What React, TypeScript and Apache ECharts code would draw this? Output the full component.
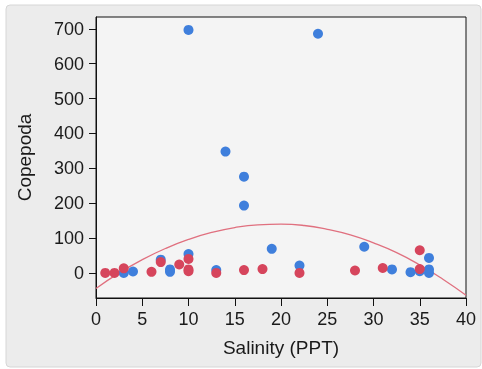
import React, { useEffect, useRef } from "react";
import * as echarts from "echarts";

const xTicks = [0, 5, 10, 15, 20, 25, 30, 35, 40];
const yTicks = [0, 100, 200, 300, 400, 500, 600, 700];

// Blue group: [salinity, copepoda]
const blueSalinity = [10, 24, 14, 16, 16, 19, 29, 10, 7, 22, 36, 8, 8, 13, 3, 4, 32, 34, 35, 36, 36];
const blueCopepoda = [697, 686, 348, 276, 193, 69, 75, 54, 38, 21, 43, 10, 3, 8, 0, 4, 10, 2, 5, 10, 0];

// Red group
const redSalinity = [1, 2, 3, 6, 7, 9, 10, 10, 10, 13, 16, 18, 22, 28, 31, 35, 35];
const redCopepoda = [0, 0, 13, 3, 31, 24, 40, 10, 5, 0, 8, 11, 0, 7, 14, 65, 11];

// Fitted quadratic curve
const fitSalinity = [0, 2.5, 5, 7.5, 10, 12.5, 15, 17.5, 20, 22.5, 25, 27.5, 30, 32.5, 35, 37.5, 40];
const fitCopepoda = [-45, 0, 38, 70, 96, 116, 130, 138, 140, 136, 125, 109, 86, 58, 23, -18, -64];

const font = "'Liberation Sans', Arial, Helvetica, sans-serif";

export default function App() {
  const ref = useRef<HTMLDivElement>(null);
  useEffect(() => {
    if (!ref.current) return;
    const chart = echarts.init(ref.current, null, { renderer: "svg" });
    const blue = blueSalinity.map((x, i) => [x, blueCopepoda[i]]);
    const red = redSalinity.map((x, i) => [x, redCopepoda[i]]);
    const fit = fitSalinity.map((x, i) => [x, fitCopepoda[i]]);
    chart.setOption({
      animation: false,
      backgroundColor: "transparent",
      graphic: [
        {
          type: "rect",
          z: -10,
          silent: true,
          shape: { x: 6, y: 5, width: 475, height: 362, r: 4 },
          style: { fill: "#ececec", stroke: "#d6d6d6", lineWidth: 1 },
        },
      ],
      grid: {
        left: 96,
        right: 16,
        top: 17,
        bottom: 71,
        show: true,
        backgroundColor: "#f4f4f4",
        borderColor: "#111",
        borderWidth: 1,
        z: 0,
      },
      xAxis: {
        type: "value",
        min: 0,
        max: 40,
        interval: 5,
        name: "Salinity (PPT)",
        nameLocation: "middle",
        nameGap: 40,
        nameTextStyle: { fontFamily: font, fontSize: 19, color: "#1a1a1a" },
        axisLine: { show: true, onZero: false, lineStyle: { color: "#111", width: 1 } },
        axisTick: { show: true, length: 8, lineStyle: { color: "#111" } },
        axisLabel: {
          fontFamily: font,
          fontSize: 18,
          color: "#1a1a1a",
          margin: 12,
          customValues: xTicks,
        },
        splitLine: { show: false },
      },
      yAxis: {
        type: "value",
        min: -72,
        max: 734,
        name: "Copepoda",
        nameLocation: "middle",
        nameGap: 62,
        nameRotate: 90,
        nameTextStyle: { fontFamily: font, fontSize: 19, color: "#1a1a1a" },
        axisLine: { show: true, onZero: false, lineStyle: { color: "#111", width: 1 } },
        axisTick: { show: true, length: 7, lineStyle: { color: "#111" }, customValues: yTicks },
        axisLabel: {
          fontFamily: font,
          fontSize: 18,
          color: "#1a1a1a",
          margin: 12,
          customValues: yTicks,
        },
        splitLine: { show: false },
      },
      series: [
        {
          type: "line",
          data: fit,
          smooth: true,
          showSymbol: false,
          silent: true,
          lineStyle: { color: "#e0707f", width: 1.3 },
          z: 2,
        },
        {
          type: "scatter",
          data: blue,
          symbolSize: 10,
          itemStyle: { color: "#3f7fdc", opacity: 1 },
          z: 3,
        },
        {
          type: "scatter",
          data: red,
          symbolSize: 10,
          itemStyle: { color: "#d6455c", opacity: 1 },
          z: 4,
        },
      ],
    });
    return () => chart.dispose();
  }, []);
  return (
    <div
      ref={ref}
      style={{ position: "fixed", left: 0, top: 0, width: 482, height: 369 }}
    />
  );
}
